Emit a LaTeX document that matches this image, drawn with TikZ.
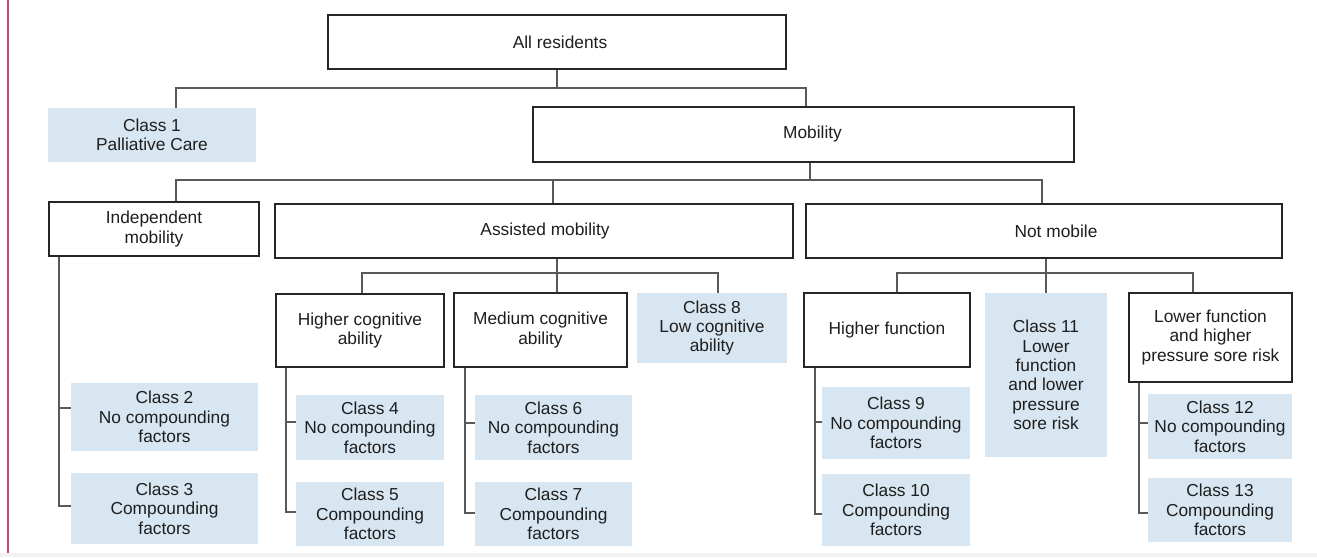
\documentclass[tikz,border=0pt]{standalone}
\usepackage{fontspec}
\setmainfont{Liberation Sans}
\definecolor{boxblue}{RGB}{215,230,240}
\definecolor{edgepink}{RGB}{205,70,115}
\definecolor{txt}{RGB}{30,30,30}
\tikzset{
  base/.style={align=center, inner sep=1pt, text=txt, font=\fontsize{13}{14.5}\selectfont},
  wbox/.style={base, draw=black!85, line width=1.4pt, fill=white},
  cbox/.style={base, fill=boxblue},
  conn/.style={draw=black!65, line width=1.1pt},
}
\begin{document}
\begin{tikzpicture}[x=0.75pt,y=-0.75pt]
\useasboundingbox (0,0) rectangle (1317,557);
\fill[black!5] (0,553) rectangle (1317,557);
\draw[edgepink, line width=1pt] (8,0) -- (8,553);

% level 0-1
\node[wbox, minimum width=343.5pt, minimum height=40.5pt] (allres) at (557,42) {\hspace*{4.5pt}All residents};
\node[cbox, minimum width=156pt, minimum height=40.5pt] (class1) at (152,135) {Class 1\\Palliative Care};
\node[wbox, minimum width=405.75pt, minimum height=41.25pt] (mobility) at (803.5,134.5) {\hspace*{13.5pt}Mobility};

% level 2
\node[wbox, minimum width=157.5pt, minimum height=40.5pt] (indep) at (154,229) {Independent\\mobility};
\node[wbox, minimum width=388.5pt, minimum height=40.5pt] (assisted) at (534,231) {\hspace*{16.5pt}Assisted mobility};
\node[wbox, minimum width=357pt, minimum height=40.5pt] (notmob) at (1044,231) {\hspace*{18pt}Not mobile};

% level 3
\node[wbox, minimum width=126pt, minimum height=54.75pt] (highcog) at (360,330.5) {Higher cognitive\\ability};
\node[wbox, minimum width=129.75pt, minimum height=55.5pt] (medcog) at (540.5,330) {Medium cognitive\\ability};
\node[cbox, minimum width=112.5pt, minimum height=52.5pt] (class8) at (712,328) {Class 8\\Low cognitive\\ability};
\node[wbox, minimum width=124.5pt, minimum height=55.5pt] (highfun) at (887,330) {Higher function};
\node[cbox, minimum width=91.5pt, minimum height=123pt] (class11) at (1046,375) {Class 11\\Lower\\function\\and lower\\pressure\\sore risk};
\node[wbox, minimum width=122.25pt, minimum height=66.75pt] (lowfun) at (1210.5,337.5) {Lower function\\and higher\\pressure sore risk};

% leaves
\node[cbox, minimum width=140.25pt, minimum height=51pt] (class2) at (164.5,417) {Class 2\\No compounding\\factors};
\node[cbox, minimum width=140.25pt, minimum height=53.25pt] (class3) at (164.5,508.5) {Class 3\\Compounding\\factors};
\node[cbox, minimum width=111pt, minimum height=48.75pt] (class4) at (370,427.5) {Class 4\\No compounding\\factors};
\node[cbox, minimum width=111pt, minimum height=48pt] (class5) at (370,514) {Class 5\\Compounding\\factors};
\node[cbox, minimum width=117.75pt, minimum height=48.75pt] (class6) at (553.5,427.5) {Class 6\\No compounding\\factors};
\node[cbox, minimum width=117.75pt, minimum height=48pt] (class7) at (553.5,514) {Class 7\\Compounding\\factors};
\node[cbox, minimum width=111pt, minimum height=54pt] (class9) at (896,423) {Class 9\\No compounding\\factors};
\node[cbox, minimum width=111pt, minimum height=54pt] (class10) at (896,510) {Class 10\\Compounding\\factors};
\node[cbox, minimum width=108pt, minimum height=48.75pt] (class12) at (1220,426.5) {Class 12\\No compounding\\factors};
\node[cbox, minimum width=108pt, minimum height=48pt] (class13) at (1220,510) {Class 13\\Compounding\\factors};

% bus coordinates
\coordinate (b1l) at (176,88);
\coordinate (b1r) at (806,88);
\coordinate (b2l) at (176,180);
\coordinate (b2m) at (810,180);
\coordinate (b2a) at (553,180);
\coordinate (b2r) at (1042,180);
\coordinate (b3l) at (362,273);
\coordinate (b3m) at (557,273);
\coordinate (b3r) at (718,273);
\coordinate (b4l) at (897,273);
\coordinate (b4m) at (1046,273);
\coordinate (b4r) at (1193,273);

% connectors level 0-1
\draw[conn] (allres.south) -- (allres.south |- b1l);
\draw[conn] (class1.north -| b1l) -- (b1l) -- (b1r) -- (mobility.north -| b1r);

% connectors level 1-2
\draw[conn] (mobility.south -| b2m) -- (b2m);
\draw[conn] (indep.north -| b2l) -- (b2l) -- (b2r) -- (notmob.north -| b2r);
\draw[conn] (b2a) -- (assisted.north -| b2a);

% assisted children
\draw[conn] (assisted.south -| b3m) -- (medcog.north -| b3m);
\draw[conn] (highcog.north -| b3l) -- (b3l) -- (b3r) -- (class8.north -| b3r);

% not mobile children
\draw[conn] (notmob.south -| b4m) -- (class11.north -| b4m);
\draw[conn] (highfun.north -| b4l) -- (b4l) -- (b4r) -- (lowfun.north -| b4r);

% leaf brackets
\coordinate (t2) at (59,408);  \coordinate (t3) at (59,506);
\draw[conn] (indep.south -| t2) -- (t3) -- (t3 -| class3.west);
\draw[conn] (t2) -- (t2 -| class2.west);

\coordinate (t4) at (286,422); \coordinate (t5) at (286,512);
\draw[conn] (highcog.south -| t4) -- (t5) -- (t5 -| class5.west);
\draw[conn] (t4) -- (t4 -| class4.west);

\coordinate (t6) at (465,423); \coordinate (t7) at (465,513);
\draw[conn] (medcog.south -| t6) -- (t7) -- (t7 -| class7.west);
\draw[conn] (t6) -- (t6 -| class6.west);

\coordinate (t9) at (815,422); \coordinate (t10) at (815,514);
\draw[conn] (highfun.south -| t9) -- (t10) -- (t10 -| class10.west);
\draw[conn] (t9) -- (t9 -| class9.west);

\coordinate (t12) at (1139,423); \coordinate (t13) at (1139,513);
\draw[conn] (lowfun.south -| t12) -- (t13) -- (t13 -| class13.west);
\draw[conn] (t12) -- (t12 -| class12.west);
\end{tikzpicture}
\end{document}
